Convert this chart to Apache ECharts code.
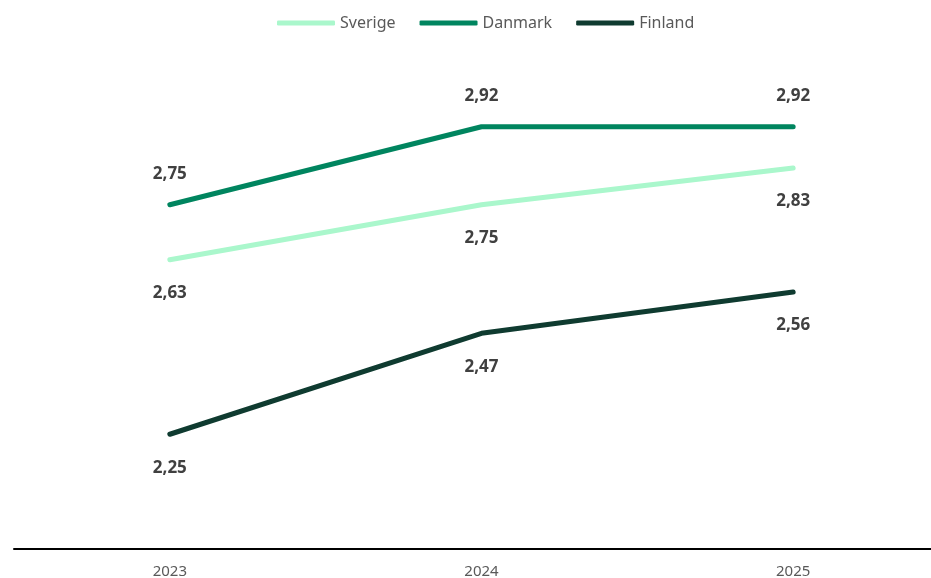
<!DOCTYPE html>
<html><head><meta charset="utf-8">
<script src="https://cdn.jsdelivr.net/npm/echarts@6/dist/echarts.min.js"></script>
<style>html,body{margin:0;padding:0;background:#fff}#c{width:931px;height:578px}</style>
</head><body><div id="c"></div>
<script>
const categories = ['2023', '2024', '2025'];
const sverige = [2.63, 2.75, 2.83];
const danmark = [2.75, 2.92, 2.92];
const finland = [2.25, 2.47, 2.56];
const seriesNames = ['Sverige', 'Danmark', 'Finland'];
const colors = ['#aaf7cc', '#00855f', '#0f3b30'];
const labelPos = ['bottom', 'top', 'bottom'];
const labelDist = [25, 22, 25];
const dataSets = [sverige, danmark, finland];

const chart = echarts.init(document.getElementById('c'));
const fmt = p => p.value.toFixed(2).replace('.', ',');
chart.setOption({
  animation: false,
  textStyle: { fontFamily: 'Noto Sans' },
  legend: {
    top: 10, left: 272,
    itemWidth: 58, itemHeight: 5, itemGap: 24,
    icon: 'roundRect',
    textStyle: { color: '#595959', fontSize: 16, padding: [0, 0, 0, 0] },
    data: seriesNames
  },
  grid: { left: 14, width: 935, top: 90, bottom: 29, outerBoundsMode: 'none', containLabel: false },
  xAxis: {
    type: 'category', data: categories, boundaryGap: true,
    axisLine: { lineStyle: { color: '#000', width: 2 } },
    axisTick: { show: false },
    axisLabel: { color: '#595959', fontSize: 15, margin: 15 }
  },
  yAxis: { type: 'value', min: 2, max: 3, show: false, splitLine: { show: false } },
  series: dataSets.map((d, i) => ({
    name: seriesNames[i], type: 'line', data: d,
    symbol: 'circle', symbolSize: 0, showSymbol: true, color: colors[i],
    lineStyle: { width: 5, color: colors[i], cap: 'round' },
    label: {
      show: true, position: labelPos[i], distance: labelDist[i],
      formatter: fmt, color: '#404040', fontSize: 17, fontWeight: 'bold'
    }
  }))
});
</script></body></html>
